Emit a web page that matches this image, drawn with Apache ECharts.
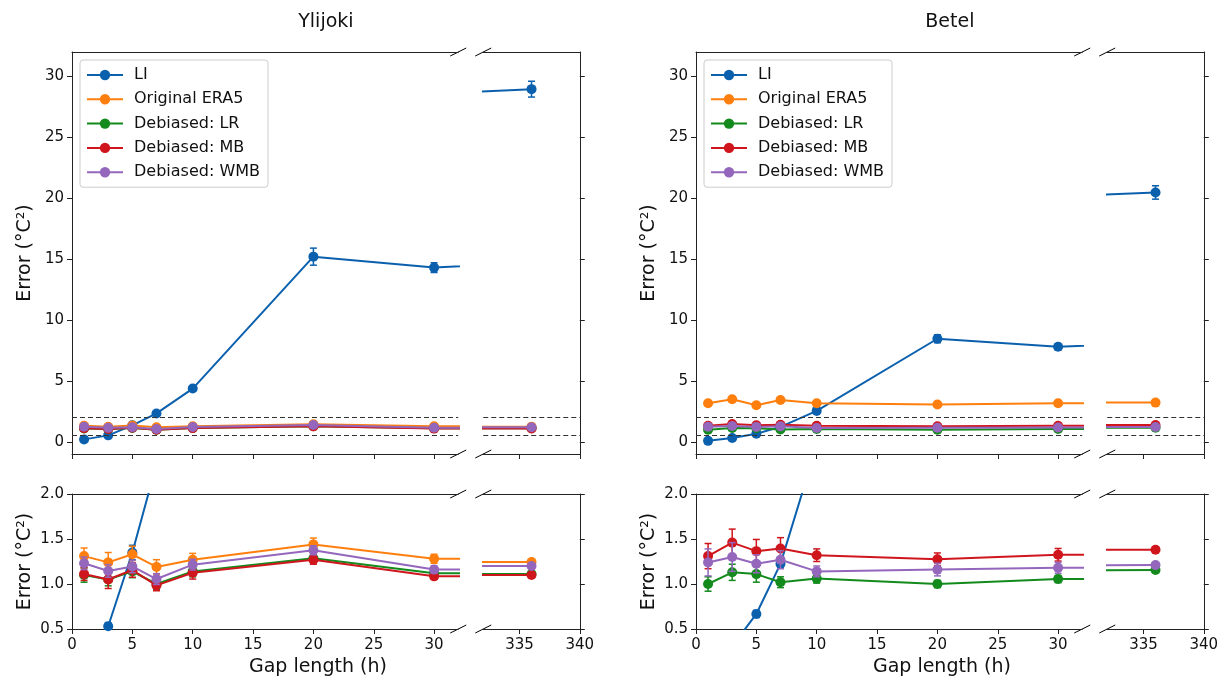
<!DOCTYPE html>
<html>
<head>
<meta charset="utf-8">
<script src="https://cdn.jsdelivr.net/npm/echarts@6/dist/echarts.min.js"></script>
<style>
html, body { margin: 0; padding: 0; background: #fff; }
#chart { width: 1228px; height: 682px; }
</style>
</head>
<body>
<div id="chart"></div>
<script>
var chart = echarts.init(document.getElementById('chart'));

// gap lengths (h), same for every series
var gaps = [1, 3, 5, 7, 10, 20, 30, 336];
var names = ['LI', 'Original ERA5', 'Debiased: LR', 'Debiased: MB', 'Debiased: WMB'];
var colors = ['#0b60ae', '#ff7f0e', '#138a1c', '#d0161d', '#9467bd'];

// Ylijoki
var yliLI = [0.2, 0.53, 1.35, 2.33, 4.37, 15.2, 14.3, 28.95];
var yliLIerr = [0.05, 0.04, 0.08, 0.1, 0.2, 0.7, 0.4, 0.65];
var yliERA5 = [1.31, 1.24, 1.33, 1.19, 1.27, 1.44, 1.28, 1.245];
var yliERA5err = [0.09, 0.11, 0.09, 0.08, 0.07, 0.07, 0.05, 0.02];
var yliLR = [1.10, 1.05, 1.14, 1.00, 1.14, 1.285, 1.12, 1.11];
var yliLRerr = [0.08, 0.07, 0.07, 0.06, 0.06, 0.05, 0.04, 0.02];
var yliMB = [1.11, 1.05, 1.155, 0.985, 1.125, 1.27, 1.085, 1.10];
var yliMBerr = [0.07, 0.1, 0.08, 0.06, 0.07, 0.05, 0.03, 0.02];
var yliWMB = [1.23, 1.145, 1.195, 1.055, 1.215, 1.375, 1.16, 1.20];
var yliWMBerr = [0.07, 0.07, 0.07, 0.06, 0.06, 0.05, 0.04, 0.02];

// Betel
var betLI = [0.08, 0.31, 0.667, 1.224, 2.54, 8.46, 7.8, 20.47];
var betLIerr = [0.03, 0.03, 0.04, 0.05, 0.1, 0.33, 0.25, 0.55];
var betERA5 = [3.17, 3.49, 3.0, 3.44, 3.17, 3.06, 3.17, 3.22];
var betERA5err = [0.15, 0.15, 0.15, 0.15, 0.12, 0.1, 0.1, 0.05];
var betLR = [1.00, 1.13, 1.11, 1.02, 1.06, 1.00, 1.055, 1.155];
var betLRerr = [0.08, 0.09, 0.09, 0.06, 0.05, 0.04, 0.04, 0.02];
var betMB = [1.31, 1.46, 1.365, 1.395, 1.32, 1.275, 1.325, 1.38];
var betMBerr = [0.14, 0.15, 0.13, 0.12, 0.07, 0.07, 0.07, 0.03];
var betWMB = [1.24, 1.30, 1.225, 1.27, 1.14, 1.16, 1.18, 1.21];
var betWMBerr = [0.15, 0.16, 0.1, 0.1, 0.06, 0.07, 0.06, 0.02];

var yTicksTop = [0, 5, 10, 15, 20, 25, 30];
var yTicksBot = [0.5, 1.0, 1.5, 2.0];
var xTicksLeft = [0, 5, 10, 15, 20, 25, 30];
var xTicksRight = [335, 340];
var dashLevels = [0.5, 2.0];

var sites = [
  { title: 'Ylijoki', x0: 72, vals: [yliLI, yliERA5, yliLR, yliMB, yliWMB],
    errs: [yliLIerr, yliERA5err, yliLRerr, yliMBerr, yliWMBerr] },
  { title: 'Betel', x0: 696, vals: [betLI, betERA5, betLR, betMB, betWMB],
    errs: [betLIerr, betERA5err, betLRerr, betMBerr, betWMBerr] }
];

// layout (px)
var pxPerH = 12.07;
var rowTop = [52, 494];
var rowH = [402, 135];
var breakGap = 25;
var xRange = [[0, 32], [332, 340]];
var yRange = [[-1, 32], [0.5, 2.0]];
var FONT = 'DejaVu Sans';
var ink = '#222';

function errorBar(color) {
  return function (params, api) {
    var x = api.value(0), y = api.value(1), e = api.value(2);
    var hi = api.coord([x, y + e]);
    var lo = api.coord([x, y - e]);
    var w = 3.5;
    var st = { stroke: color, lineWidth: 1.5 };
    return {
      type: 'group',
      children: [
        { type: 'line', shape: { x1: hi[0], y1: hi[1], x2: lo[0], y2: lo[1] }, style: st },
        { type: 'line', shape: { x1: hi[0] - w, y1: hi[1], x2: hi[0] + w, y2: hi[1] }, style: st },
        { type: 'line', shape: { x1: lo[0] - w, y1: lo[1], x2: lo[0] + w, y2: lo[1] }, style: st }
      ]
    };
  };
}

var grids = [], xAxes = [], yAxes = [], series = [], graphics = [], legends = [];

sites.forEach(function (site) {
  var leftEnd = site.x0 + (xRange[0][1] - xRange[0][0]) * pxPerH;
  var rightStart = leftEnd + breakGap;

  [0, 1].forEach(function (r) {
    [0, 1].forEach(function (c) {
      var g = grids.length;
      var left = c === 0 ? site.x0 : rightStart;
      var width = (xRange[c][1] - xRange[c][0]) * pxPerH;
      grids.push({ left: left, top: rowTop[r], width: width, height: rowH[r] });

      xAxes.push({
        type: 'value', gridIndex: g, position: 'bottom',
        min: xRange[c][0], max: xRange[c][1],
        splitLine: { show: false },
        axisLine: { onZero: false, lineStyle: { color: ink, width: 1 } },
        axisTick: { length: 5, customValues: c === 0 ? xTicksLeft : xTicksRight, lineStyle: { color: ink } },
        axisLabel: { show: r === 1, margin: 9, customValues: c === 0 ? xTicksLeft : xTicksRight,
          color: '#111', fontFamily: FONT, fontSize: 15 }
      });
      // top spine
      xAxes.push({
        type: 'value', gridIndex: g, position: 'top',
        min: xRange[c][0], max: xRange[c][1],
        splitLine: { show: false },
        axisLine: { onZero: false, lineStyle: { color: ink, width: 1 } },
        axisTick: { show: false }, axisLabel: { show: false }
      });
      var yt = r === 0 ? yTicksTop : yTicksBot;
      yAxes.push({
        type: 'value', gridIndex: g, position: c === 0 ? 'left' : 'right',
        min: yRange[r][0], max: yRange[r][1],
        splitLine: { show: false },
        axisLine: { show: true, onZero: false, lineStyle: { color: ink, width: 1 } },
        axisTick: { show: true, length: 5, customValues: yt, lineStyle: { color: ink } },
        axisLabel: {
          show: c === 0, margin: 8, customValues: yt,
          color: '#111', fontFamily: FONT, fontSize: 15,
          formatter: function (v) { return r === 0 ? String(v) : v.toFixed(1); }
        },
        name: c === 0 ? 'Error (°C²)' : '',
        nameLocation: 'middle', nameGap: 37,
        nameTextStyle: { color: '#111', fontFamily: FONT, fontSize: 19 }
      });

      site.vals.forEach(function (vals, k) {
        var line = {
          type: 'line', name: names[k], xAxisIndex: 2 * g, yAxisIndex: g,
          data: gaps.map(function (x, i) { return [x, vals[i]]; }),
          clip: true, symbol: 'circle', symbolSize: 10,
          lineStyle: { color: colors[k], width: 2 },
          itemStyle: { color: colors[k] },
          z: 2 + k
        };
        if (k === 0 && r === 0) {
          line.markLine = {
            silent: true, symbol: ['none', 'none'], label: { show: false },
            lineStyle: { type: [5, 3], color: '#333', width: 1 },
            data: dashLevels.map(function (v) { return { yAxis: v }; })
          };
        }
        series.push(line);
        series.push({
          type: 'custom', name: names[k], xAxisIndex: 2 * g, yAxisIndex: g,
          data: gaps.map(function (x, i) { return [x, vals[i], site.errs[k][i]]; }),
          encode: { x: 0, y: 1 }, clip: true,
          renderItem: errorBar(colors[k]),
          z: 2 + k
        });
      });
    });

    // break marks
    [rowTop[r], rowTop[r] + rowH[r]].forEach(function (cy) {
      [leftEnd, rightStart].forEach(function (cx) {
        graphics.push({
          type: 'line', silent: true,
          shape: { x1: cx - 8, y1: cy + 4, x2: cx + 8, y2: cy - 4 },
          style: { stroke: '#000', lineWidth: 1 }
        });
      });
    });
  });

  var mid = (site.x0 + rightStart + (xRange[1][1] - xRange[1][0]) * pxPerH) / 2;
  graphics.push({
    type: 'text', x: mid, y: 22,
    style: { text: site.title, fill: '#111', font: '19px "' + FONT + '"', align: 'center', verticalAlign: 'middle' }
  });
  graphics.push({
    type: 'text', x: mid - 8, y: 667,
    style: { text: 'Gap length (h)', fill: '#111', font: '19px "' + FONT + '"', align: 'center', verticalAlign: 'middle' }
  });

  legends.push({
    left: site.x0 + 8, top: 60, orient: 'vertical',
    data: names, selectedMode: false,
    itemWidth: 36, itemHeight: 13, itemGap: 6.3,
    padding: [6, 8, 6, 6],
    backgroundColor: 'rgba(255,255,255,0.85)',
    borderColor: '#ccc', borderWidth: 1, borderRadius: 3,
    textStyle: { fontFamily: FONT, fontSize: 16, color: '#111', lineHeight: 18, padding: [0, 0, 0, 6] }
  });
});

chart.setOption({
  animation: false,
  backgroundColor: '#fff',
  grid: grids,
  xAxis: xAxes,
  yAxis: yAxes,
  legend: legends,
  series: series,
  graphic: graphics
});
</script>
</body>
</html>
